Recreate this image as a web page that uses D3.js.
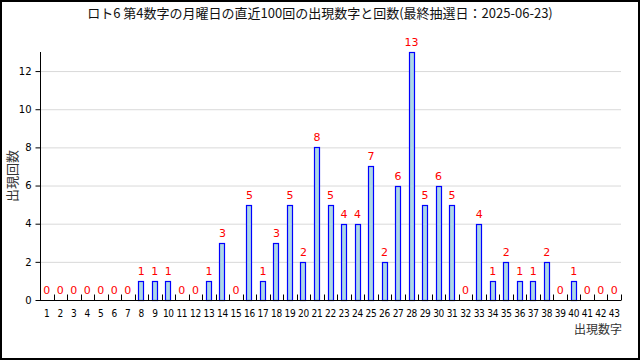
<!DOCTYPE html>
<html><head><meta charset="utf-8">
<script src="https://cdn.jsdelivr.net/npm/d3@7"></script>
<style>body{margin:0;background:#fff}svg{display:block}</style>
</head><body>
<svg id="c" width="640" height="360"></svg>
<script>
const categories = d3.range(1, 44).map(String);
const counts = [0,0,0,0,0,0,0,1,1,1,0,0,1,3,0,5,1,3,5,2,8,5,4,4,7,2,6,13,5,6,5,0,4,1,2,1,1,2,0,1,0,0,0];
const yTicks = [0,2,4,6,8,10,12];
const titleText = "ロト6 第4数字の月曜日の直近100回の出現数字と回数(最終抽選日：2025-06-23)";
const xTitle = "出現数字", yTitle = "出現回数";

const svg = d3.select("#c");
const W = 640, H = 360;
const m = {l:40, r:19, t:52, b:60};
const font = "'Noto Sans CJK JP', sans-serif";

svg.append("rect").attr("x",1).attr("y",1).attr("width",W-2).attr("height",H-2)
  .attr("fill","#fff").attr("stroke","#000").attr("stroke-width",2);

const x = d3.scaleBand().domain(categories).range([m.l, W-m.r]).padding(0);
const y = d3.scaleLinear().domain([0,13]).range([H-m.b, m.t]);

// gridlines
svg.append("g").selectAll("line").data(yTicks.filter(d=>d>0)).join("line")
  .attr("x1",m.l).attr("x2",W-m.r).attr("y1",d=>y(d)+0.5).attr("y2",d=>y(d)+0.5)
  .attr("stroke","#d9d9d9");

// y axis
const ya = svg.append("g").attr("transform",`translate(${m.l+0.5},0)`)
  .call(d3.axisLeft(y).tickValues(yTicks).tickSize(5).tickPadding(4).tickSizeOuter(0));
ya.select(".domain").attr("d",`M0,${m.t}V${y(0)}`);
ya.selectAll("text").attr("font-family","'DejaVu Sans', sans-serif").attr("font-size",10).attr("fill","#000");

// bars
const bw = 6;
svg.append("g").selectAll("rect").data(counts).join("rect")
  .attr("x",(d,i)=>Math.round(x(categories[i])+x.bandwidth()/2-bw/2)+0.5)
  .attr("y",d=>Math.round(y(d))+0.5)
  .attr("width",bw-1)
  .attr("height",d=>Math.max(0, y(0)-Math.round(y(d))))
  .attr("fill",d=>d>0?"#add8e6":"none").attr("stroke",d=>d>0?"#0000ff":"none").attr("stroke-width",1.2);

// x axis
const xa = svg.append("g").attr("transform",`translate(0,${y(0)+0.5})`);
xa.append("line").attr("x1",m.l).attr("x2",W-m.r).attr("stroke","#000");
xa.selectAll("line.t").data(categories).join("line").attr("class","t")
  .attr("x1",d=>Math.round(x(d)+x.bandwidth())+0.5).attr("x2",d=>Math.round(x(d)+x.bandwidth())+0.5)
  .attr("y1",0).attr("y2",-6).attr("stroke","#000");
xa.selectAll("text").data(categories).join("text")
  .attr("x",d=>x(d)+x.bandwidth()/2).attr("y",16)
  .attr("text-anchor","middle").attr("font-family","'DejaVu Sans Condensed', 'DejaVu Sans', sans-serif")
  .attr("font-size",10).attr("letter-spacing",-0.3).text(d=>d);

// value labels
svg.append("g").selectAll("text").data(counts).join("text")
  .attr("x",(d,i)=>x(categories[i])+x.bandwidth()/2)
  .attr("y",d=>y(d)-6)
  .attr("text-anchor","middle").attr("fill","#ff0000")
  .attr("font-family","'DejaVu Sans', sans-serif").attr("font-size",11)
  .text(d=>d);

// titles
svg.append("text").attr("x",320).attr("y",18).attr("text-anchor","middle")
  .attr("font-family",font).attr("font-size",13).attr("fill","#111").text(titleText);
svg.append("text").attr("x",W-m.r+1).attr("y",334).attr("text-anchor","end")
  .attr("font-family",font).attr("font-size",12).attr("fill","#333").text(xTitle);
svg.append("text").attr("transform",`translate(17,${(m.t+y(0))/2}) rotate(-90)`)
  .attr("text-anchor","middle").attr("font-family",font).attr("font-size",13)
  .attr("fill","#333").text(yTitle);
</script>
</body></html>
